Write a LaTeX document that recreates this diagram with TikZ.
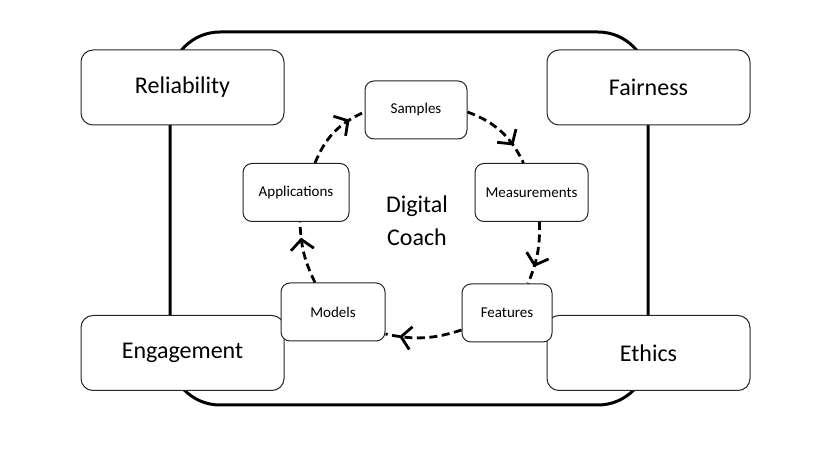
\documentclass[tikz,border=0pt]{standalone}
\usepackage{fontspec}
\setmainfont{Carlito}
\usetikzlibrary{arrows.meta,decorations.markings}

\begin{document}
\begin{tikzpicture}[x=1pt, y=1pt,
  corner/.style={draw=black!85, fill=white, line width=1pt, rounded corners=12pt,
    minimum width=203pt, minimum height=75pt, font=\fontsize{24}{28}\selectfont},
  stage/.style={draw=black!85, fill=white, line width=1pt, rounded corners=9pt,
    minimum height=58pt, font=\fontsize{15}{18}\selectfont},
  flow/.style={line width=2.8pt, dash pattern=on 8pt off 4.5pt,
    postaction={decorate, decoration={markings,
      mark=at position #1 with {\arrow[solid]{Straight Barb[length=10pt,width=23pt]}}}}}]

\useasboundingbox (0,0) rectangle (820,458);

% outer frame
\draw [line width=3pt, rounded corners=50pt] (170,53) rectangle (648,426);

\node [corner] (rel) at (182.5,370.5) {Reliability};
\node [corner] (fair) at (648.5,370.5) {Fairness};
\node [corner] (eng) at (182.5,105) {Engagement};
\node [corner] (eth) at (648.5,105) {Ethics};

\node [stage, minimum width=102pt] (samp) at (416,348) {Samples};
\node [stage, minimum width=113pt] (meas) at (531.5,265.5) {Measurements};
\node [stage, minimum width=90pt] (feat) at (507,145) {Features};
\node [stage, minimum width=104pt] (mod) at (333,146) {Models};
\node [stage, minimum width=106pt] (app) at (296,265.5) {Applications};

\node [align=center, font=\fontsize{24}{33}\selectfont] (coach) at (417,237) {Digital\\Coach};

% the cycle
\draw [flow=0.74] ([yshift=-2pt]samp.east) to[bend left=22] ([xshift=-8pt]meas.north);
\draw [flow=0.72] ([xshift=8pt]meas.south) to[bend left=12] ([xshift=21pt]feat.north);
\draw [flow=0.82] ([yshift=-17pt]feat.west) to[bend left=15] ([yshift=-22pt]mod.east);
\draw [flow=0.75] ([xshift=-18pt]mod.north) to[bend left=12] ([xshift=4pt]app.south);
\draw [flow=0.77] ([xshift=19pt]app.north) to[bend left=22] ([yshift=-2pt]samp.west);

\end{tikzpicture}
\end{document}
